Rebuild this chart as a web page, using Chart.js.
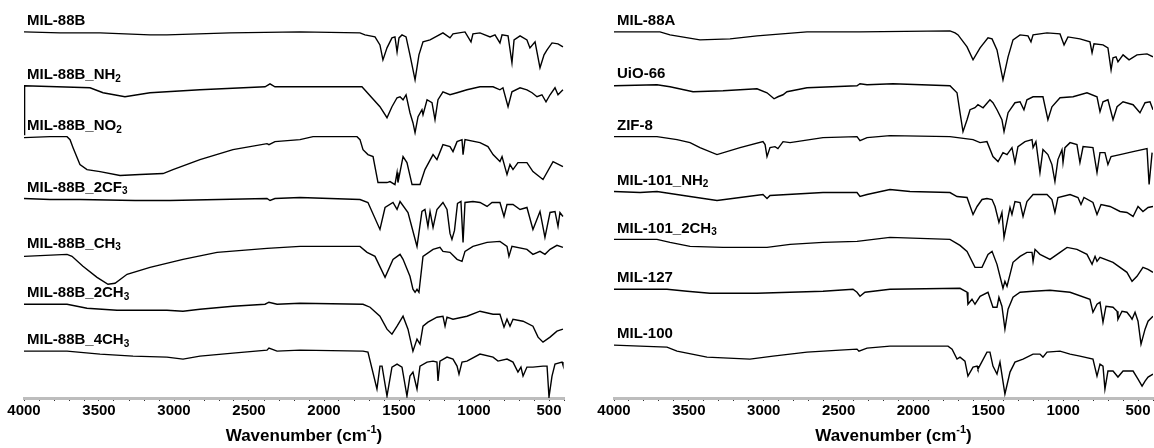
<!DOCTYPE html>
<html>
<head>
<meta charset="utf-8">
<script src="https://cdn.jsdelivr.net/npm/chart.js@4.4.1/dist/chart.umd.min.js"></script>
<style>
  html, body { margin: 0; padding: 0; background: #fff; }
  #wrap { position: relative; width: 1154px; height: 448px; }
  .panel { position: absolute; top: 0; width: 577px; height: 448px; }
</style>
</head>
<body>
<div id="wrap">
  <div class="panel" style="left:0"><canvas id="left"></canvas></div>
  <div class="panel" style="left:577px"><canvas id="right"></canvas></div>
</div>
<script>
// FTIR spectra, stacked (wavenumber in cm-1, stacked transmittance in a.u.)
const labeledTicks = [4000, 3500, 3000, 2500, 2000, 1500, 1000, 500];

const leftNames = ["MIL-88B", "MIL-88B_NH{2}", "MIL-88B_NO{2}", "MIL-88B_2CF{3}",
  "MIL-88B_CH{3}", "MIL-88B_2CH{3}", "MIL-88B_4CH{3}"];
const rightNames = ["MIL-88A", "UiO-66", "ZIF-8", "MIL-101_NH{2}", "MIL-101_2CH{3}",
  "MIL-127", "MIL-100"];

// left panel
const mil88b = [[4000,367],[3760,366],[3493,366],[3160,364],[3047,364],[2627,366],[2160,367],
  [1760,366],[1727,364],[1660,362],[1627,354],[1607,339],[1580,351],[1547,361],[1527,362],
  [1513,347],[1500,361],[1480,364],[1453,362],[1427,344],[1393,319],[1367,344],[1340,357],
  [1293,359],[1207,366],[1160,361],[1140,365],[1060,367],[1020,357],[1007,365],[960,366],
  [893,362],[860,364],[827,356],[813,364],[773,363],[747,336],[733,359],[693,363],[647,359],
  [627,351],[593,357],[560,331],[533,344],[513,349],[480,356],[440,355],[407,352]];

const mil88bNH2 = [[4000,264],[3996,313],[3560,311],[3473,306],[3327,302],[3160,306],[2827,309],
  [2393,312],[2360,315],[2327,312],[2160,312],[1747,312],[1627,292],[1580,281],[1547,292],
  [1513,301],[1493,302],[1473,299],[1453,304],[1427,286],[1407,276],[1393,266],[1373,282],
  [1347,289],[1340,284],[1313,299],[1280,296],[1260,279],[1240,299],[1207,307],[1160,304],
  [1113,306],[1047,309],[960,312],[873,312],[827,309],[807,311],[773,292],[747,307],[693,311],
  [647,309],[613,306],[580,302],[547,304],[520,297],[493,304],[460,311],[440,304],[407,309]];

const mil88bNO2 = [[4000,261],[3827,262],[3713,262],[3693,259],[3673,251],[3660,246],[3627,234],
  [3580,229],[3493,227],[3360,223],[3227,224],[3073,225],[3007,229],[2827,239],[2607,249],
  [2380,255],[2367,254],[2327,257],[2160,259],[2073,262],[1780,262],[1760,259],[1740,249],
  [1707,244],[1673,242],[1640,216],[1580,216],[1560,217],[1527,214],[1513,226],[1507,216],
  [1473,242],[1447,236],[1413,214],[1360,214],[1327,229],[1273,244],[1247,239],[1207,254],
  [1160,252],[1140,247],[1113,257],[1080,259],[1073,244],[1060,259],[960,256],[907,252],
  [873,244],[827,237],[813,242],[780,224],[760,234],[740,229],[707,236],[647,236],[607,227],
  [540,219],[473,237],[407,232]];

const mil88b2CF3 = [[4000,200],[3827,199],[3627,199],[3260,198],[3027,198],[2380,200],[2360,198],
  [2327,200],[2160,201],[1760,199],[1707,196],[1627,169],[1593,191],[1540,196],[1513,189],
  [1493,197],[1440,186],[1380,152],[1347,187],[1327,189],[1307,172],[1293,187],[1273,171],
  [1247,189],[1207,196],[1180,189],[1160,165],[1147,159],[1130,168],[1110,195],[1087,197],
  [1073,156],[1060,196],[1007,197],[960,196],[913,192],[880,196],[827,196],[800,182],[780,194],
  [740,194],[693,189],[647,191],[607,169],[560,187],[527,161],[493,186],[460,187],[440,172],
  [427,186],[407,182]];

const mil88bCH3 = [[4000,142],[3713,144],[3680,142],[3607,132],[3513,121],[3440,114],[3393,115],
  [3313,124],[3160,131],[2940,139],[2713,146],[2380,150],[2160,152],[1760,152],[1713,146],
  [1660,142],[1593,121],[1540,139],[1493,144],[1473,139],[1427,122],[1407,109],[1393,106],
  [1380,109],[1367,106],[1340,142],[1273,149],[1227,151],[1207,147],[1160,146],[1113,139],
  [1080,137],[1060,147],[1007,152],[913,156],[827,157],[780,152],[767,142],[747,152],[647,149],
  [607,144],[560,147],[527,144],[493,149],[447,153],[407,151]];

const mil88b2CH3 = [[4000,94],[3713,94],[3580,90],[3380,88],[3047,88],[2940,87],[2827,89],
  [2607,92],[2393,94],[2367,96],[2313,94],[2160,95],[1740,94],[1693,91],[1627,82],[1580,69],
  [1547,64],[1513,72],[1473,82],[1440,69],[1407,47],[1380,59],[1360,54],[1340,72],[1307,76],
  [1247,81],[1207,82],[1193,72],[1180,81],[1140,79],[1047,82],[960,87],[873,84],[827,84],
  [800,71],[780,79],[760,72],[740,79],[673,77],[607,72],[573,61],[540,56],[493,61],[447,67],
  [407,69]];

const mil88b4CH3 = [[4000,47],[3713,47],[3493,44],[3273,42],[3047,41],[2940,39],[2827,42],
  [2607,45],[2380,48],[2367,50],[2313,47],[2160,48],[1740,47],[1707,46],[1647,9],[1627,32],
  [1613,32],[1580,2],[1547,31],[1513,34],[1480,31],[1447,2],[1427,22],[1407,26],[1380,9],
  [1360,32],[1313,36],[1273,37],[1247,36],[1240,17],[1227,37],[1180,41],[1140,39],[1113,32],
  [1100,24],[1080,36],[1047,37],[960,44],[873,41],[840,37],[780,39],[740,36],[707,26],[687,31],
  [673,22],[647,31],[607,31],[540,32],[513,32],[500,1],[480,22],[460,34],[413,36],[407,33]];

// right panel
const mil88a = [[4000,367],[3693,367],[3626,364],[3426,359],[3225,360],[3045,363],[2711,367],
  [2357,367],[1756,368],[1722,366],[1702,364],[1642,352],[1602,339],[1555,351],[1502,361],
  [1475,360],[1442,349],[1402,319],[1368,342],[1335,359],[1288,364],[1235,363],[1215,357],
  [1201,364],[1108,366],[1021,365],[994,354],[968,362],[888,360],[821,357],[807,346],[794,355],
  [734,354],[701,351],[680,329],[667,341],[647,342],[634,337],[600,344],[560,339],[507,344],
  [440,345],[400,342]];

const uio66 = [[4000,313],[3713,314],[3626,312],[3472,307],[3272,308],[3045,310],[2978,306],
  [2931,300],[2905,302],[2871,304],[2845,307],[2711,311],[2377,313],[2357,315],[2310,314],
  [2137,315],[1756,313],[1709,306],[1689,286],[1669,267],[1642,279],[1622,289],[1589,291],
  [1569,294],[1535,291],[1489,299],[1469,296],[1442,289],[1409,279],[1395,267],[1368,286],
  [1322,296],[1288,297],[1262,289],[1242,299],[1201,302],[1135,302],[1102,279],[1075,292],
  [1021,301],[934,302],[841,306],[774,302],[754,287],[734,297],[701,299],[667,279],[640,292],
  [600,297],[533,294],[487,286],[453,296],[420,297],[400,289]];

const zif8 = [[4000,262],[3713,262],[3579,259],[3492,256],[3426,251],[3312,244],[3158,251],
  [3005,257],[2991,254],[2978,242],[2958,251],[2925,252],[2905,250],[2871,257],[2824,256],
  [2604,261],[2377,262],[2357,258],[2310,261],[2157,263],[1756,262],[1602,259],[1555,256],
  [1509,257],[1469,242],[1435,237],[1402,246],[1375,244],[1342,251],[1322,236],[1302,252],
  [1255,257],[1208,259],[1201,251],[1182,257],[1155,226],[1135,249],[1102,244],[1075,234],
  [1055,217],[1035,239],[1008,249],[1001,236],[988,251],[954,256],[908,254],[888,236],
  [867,252],[801,251],[774,226],[754,246],[721,246],[701,234],[680,242],[620,244],[533,247],
  [440,250],[426,214],[406,246]];

const mil101NH2 = [[4000,207],[3826,206],[3713,207],[3492,202],[3312,198],[3158,201],[3005,204],
  [2978,200],[2958,203],[2604,206],[2377,206],[2357,202],[2310,204],[2157,209],[2023,207],
  [1756,206],[1709,202],[1642,201],[1602,184],[1575,192],[1542,199],[1509,200],[1475,199],
  [1455,192],[1429,176],[1409,186],[1395,161],[1375,176],[1355,191],[1342,184],[1322,197],
  [1288,196],[1268,182],[1242,197],[1201,204],[1108,204],[1075,199],[1055,186],[1035,201],
  [954,204],[901,201],[881,194],[861,201],[801,196],[774,184],[747,194],[687,192],[620,187],
  [574,186],[533,182],[500,192],[467,187],[433,191],[400,192]];

const mil1012CH3 = [[4000,159],[3713,159],[3626,156],[3492,152],[3272,151],[2978,151],[2824,154],
  [2604,156],[2377,157],[2157,161],[1756,159],[1689,153],[1642,147],[1589,131],[1542,131],
  [1502,144],[1475,147],[1442,134],[1402,110],[1389,117],[1375,112],[1355,124],[1335,136],
  [1288,142],[1242,146],[1208,146],[1201,137],[1188,149],[1155,144],[1088,139],[1021,146],
  [974,151],[908,149],[841,144],[807,134],[787,142],[774,137],[754,141],[667,136],[574,126],
  [540,117],[507,122],[467,131],[433,129],[400,126]];

const mil127 = [[4000,109],[3646,109],[3512,107],[3359,105],[3045,105],[2604,107],[2404,109],
  [2377,106],[2357,102],[2324,106],[2157,109],[1689,110],[1642,106],[1636,94],[1609,99],
  [1589,94],[1555,102],[1502,106],[1469,91],[1442,91],[1429,101],[1409,92],[1389,69],[1368,89],
  [1335,101],[1288,106],[1201,107],[1088,108],[954,106],[821,99],[801,86],[774,94],[754,96],
  [734,76],[714,92],[667,91],[640,87],[634,79],[607,87],[574,86],[553,82],[540,79],[520,86],
  [500,77],[480,54],[453,69],[433,77],[400,82]];

const mil100 = [[4000,53],[3826,52],[3646,51],[3579,47],[3379,41],[3092,39],[2938,42],[2711,46],
  [2491,48],[2377,49],[2364,47],[2310,50],[2157,52],[1769,52],[1742,49],[1709,39],[1689,41],
  [1656,37],[1636,22],[1602,31],[1575,32],[1569,29],[1509,46],[1489,46],[1469,32],[1442,24],
  [1422,36],[1389,4],[1355,26],[1322,36],[1268,39],[1201,44],[1155,44],[1135,41],[1108,46],
  [1021,47],[954,44],[888,42],[801,39],[774,22],[754,34],[734,32],[721,9],[701,27],[667,27],
  [634,21],[600,27],[533,27],[500,19],[473,12],[453,17],[433,21],[400,24]];

const leftSpectra = [mil88b, mil88bNH2, mil88bNO2, mil88b2CF3, mil88bCH3, mil88b2CH3, mil88b4CH3];
const rightSpectra = [mil88a, uio66, zif8, mil101NH2, mil1012CH3, mil127, mil100];

const FONT = "'Liberation Sans', Arial, sans-serif";

// draws "text{sub}" pieces, braces mark subscripts
function drawRich(ctx, str, x, y, size) {
  const parts = str.split(/(\{[^}]*\})/).filter(p => p.length);
  let cx = x;
  parts.forEach(p => {
    if (p[0] === "{") {
      ctx.font = "bold " + Math.round(size * 0.68) + "px " + FONT;
      ctx.fillText(p.slice(1, -1), cx, y + size * 0.28);
      cx += ctx.measureText(p.slice(1, -1)).width;
    } else {
      ctx.font = "bold " + size + "px " + FONT;
      ctx.fillText(p, cx, y);
      cx += ctx.measureText(p).width;
    }
  });
}

function makeChart(id, names, spectra, padLeft, padRight) {
  const datasets = spectra.map((s, i) => ({
    label: names[i],
    data: s.map(p => ({ x: p[0], y: p[1] })),
    borderColor: "#000",
    borderWidth: 1.4,
    pointRadius: 0,
    fill: false,
    tension: 0
  }));

  const labelPlugin = {
    id: "specLabels",
    afterDatasetsDraw(chart) {
      const ctx = chart.ctx;
      const xs = chart.scales.x, ys = chart.scales.y;
      ctx.save();
      ctx.fillStyle = "#000";
      ctx.textBaseline = "middle";
      ctx.textAlign = "left";
      spectra.forEach((s, i) => {
        const base = Math.max(...s.filter(p => p[0] >= 3700).map(p => p[1]));
        drawRich(ctx, names[i], xs.getPixelForValue(4000) + 3, ys.getPixelForValue(base + 11), 15);
      });
      ctx.restore();
    },
    afterDraw(chart) {
      const ctx = chart.ctx;
      const a = chart.chartArea;
      ctx.save();
      ctx.fillStyle = "#000";
      ctx.textBaseline = "middle";
      ctx.textAlign = "left";
      ctx.font = "bold 17px " + FONT;
      const w1 = ctx.measureText("Wavenumber (cm").width;
      ctx.font = "bold 11px " + FONT;
      const w2 = ctx.measureText("-1").width;
      ctx.font = "bold 17px " + FONT;
      const w3 = ctx.measureText(")").width;
      const x0 = (a.left + a.right) / 2 + 10 - (w1 + w2 + w3) / 2;
      const y0 = 436;
      ctx.fillText("Wavenumber (cm", x0, y0);
      ctx.font = "bold 11px " + FONT;
      ctx.fillText("-1", x0 + w1, y0 - 6);
      ctx.font = "bold 17px " + FONT;
      ctx.fillText(")", x0 + w1 + w2, y0);
      ctx.restore();
    }
  };

  return new Chart(document.getElementById(id), {
    type: "line",
    data: { datasets: datasets },
    options: {
      responsive: true,
      maintainAspectRatio: false,
      animation: false,
      devicePixelRatio: 1,
      layout: { padding: { left: padLeft, right: padRight, top: 0, bottom: 27 } },
      plugins: { legend: { display: false }, tooltip: { enabled: false } },
      scales: {
        x: {
          type: "linear",
          min: 400,
          max: 4000,
          reverse: true,
          border: { color: "#bdbdbd", width: 3 },
          grid: { drawOnChartArea: false, drawTicks: true, tickLength: 3, color: "#333" },
          ticks: {
            stepSize: 100,
            autoSkip: false,
            maxTicksLimit: 40,
            maxRotation: 0,
            padding: 1,
            color: "#000",
            font: { family: FONT, size: 15, weight: "bold" },
            callback: v => labeledTicks.includes(v) ? String(v) : ""
          }
        },
        y: { display: false, min: 0, max: 399 }
      }
    },
    plugins: [labelPlugin]
  });
}

makeChart("left", leftNames, leftSpectra, 24, 13);
makeChart("right", rightNames, rightSpectra, 37, 1);
</script>
</body>
</html>
